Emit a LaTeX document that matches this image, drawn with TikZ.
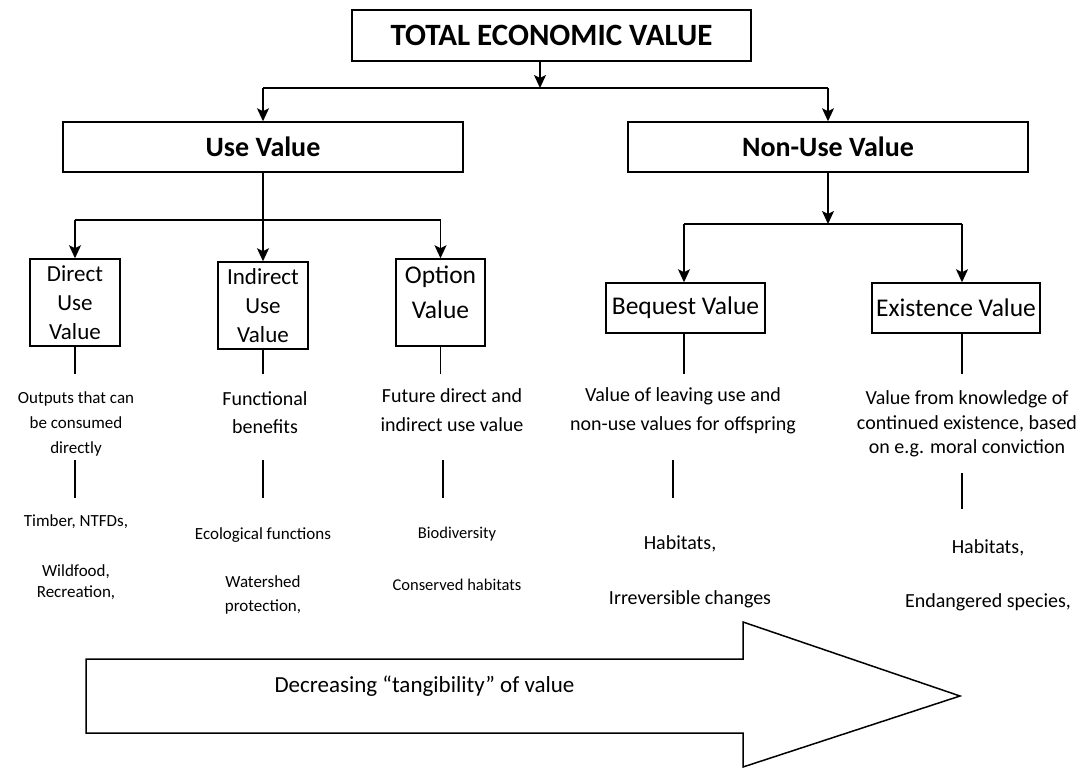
\documentclass[tikz,border=0pt]{standalone}
\usepackage{fontspec}
\setmainfont{Carlito}
\usetikzlibrary{arrows.meta}

\begin{document}
\begin{tikzpicture}[x=1pt,y=1pt]
	\tikzstyle{every node}+=[inner sep=0pt, align=center]
	\tikzstyle{valbox}=[draw, line width=1.5pt]
	\tikzstyle{link}=[line width=1.5pt]
	\tikzstyle{arr}=[link, -{Stealth[length=13pt,width=12pt,inset=3pt]}]
	\tikzstyle{headtxt}=[font=\fontsize{28}{32}\selectfont\bfseries]
	\tikzstyle{boxtxt}=[font=\fontsize{23}{29}\selectfont]
	\tikzstyle{smalltxt}=[font=\fontsize{17}{25}\selectfont]
	\tikzstyle{midtxt}=[font=\fontsize{20}{29}\selectfont]
	\useasboundingbox (0,0) rectangle (1082,-769);
	\node [valbox, minimum width=399, minimum height=51, font=\fontsize{31}{35}\selectfont\bfseries] (tev) at (551.5,-35.5) {TOTAL ECONOMIC VALUE};
	\node [valbox, headtxt, minimum width=400, minimum height=50] (use) at (263,-147) {Use Value};
	\node [valbox, headtxt, minimum width=400, minimum height=50] (nonuse) at (828,-147) {Non-Use Value};
	\node [valbox, boxtxt, minimum width=90, minimum height=87] (dir) at (75,-302.5) {Direct\\Use\\Value};
	\node [valbox, boxtxt, minimum width=90, minimum height=87] (ind) at (263,-305.5) {Indirect\\Use\\Value};
	\node [valbox, minimum width=89, minimum height=87, text depth=20pt, font=\fontsize{25.5}{35}\selectfont] (opt) at (440.5,-302.5) {Option\\Value};
	\node [valbox, minimum width=159, minimum height=50, font=\fontsize{25.5}{29}\selectfont] (beq) at (685.5,-308) {Bequest Value};
	\node [valbox, minimum width=168, minimum height=50, font=\fontsize{25.5}{29}\selectfont] (exi) at (956,-308) {Existence Value};
	\coordinate (tj) at (540,-88);
	\coordinate (uj) at (263,-220);
	\coordinate (nj) at (828,-224);
	\coordinate (bj) at (684,-224);
	\coordinate (ej) at (962,-224);
	\draw [arr] (tev.south -| tj) -- (tj);
	\draw [link] (use.north |- tj) -- (nonuse.north |- tj);
	\draw [arr] (use.north |- tj) -- (use.north);
	\draw [arr] (nonuse.north |- tj) -- (nonuse.north);
	\draw [arr] (use.south) -- (ind.north);
	\draw [link] (dir.north |- uj) -- (opt.north |- uj);
	\draw [arr] (dir.north |- uj) -- (dir.north);
	\draw [arr] (opt.north |- uj) -- (opt.north);
	\draw [arr] (nonuse.south) -- (nj);
	\draw [link] (bj) -- (ej);
	\draw [arr] (bj) -- (bj |- beq.north);
	\draw [arr] (ej) -- (ej |- exi.north);
	\node [smalltxt] (dout) at (76,-423.5) {Outputs that can\\be consumed\\directly};
	\node [midtxt, font=\fontsize{20}{28}\selectfont] (iout) at (265,-413) {Functional\\benefits};
	\node [midtxt] (oout) at (452,-410.5) {Future direct and\\indirect use value};
	\node [midtxt] (bout) at (683,-410.5) {Value of leaving use and\\non-use values for offspring};
	\node [midtxt, font=\fontsize{20}{24.5}\selectfont] (eout) at (967,-424) {Value from knowledge of\\continued existence, based\\on e.g. moral conviction};
	\draw [link] (dir.south) -- ++(0,-27);
	\draw [link] (ind.south) -- ++(0,-24);
	\draw [link] (opt.south) -- ++(0,-27);
	\draw [link] (beq.south -| bj) -- ++(0,-40);
	\draw [link] (exi.south -| ej) -- ++(0,-40);
	\draw [link] (dir.south |- 0,-460) -- ++(0,-38);
	\draw [link] (ind.south |- 0,-460) -- ++(0,-38);
	\draw [link] ([xshift=2.5pt]opt.south |- 0,-460) -- ++(0,-38);
	\draw [link] ([xshift=-11pt]bj |- 0,-460) -- ++(0,-38);
	\draw [link] (ej |- 0,-473) -- ++(0,-36);
	\node [smalltxt] (dex1) at (76,-522) {Timber, NTFDs,};
	\node [smalltxt, font=\fontsize{17}{21}\selectfont] (dex2) at (76,-582.5) {Wildfood,\\Recreation,};
	\node [smalltxt] (iex1) at (263,-535) {Ecological functions};
	\node [smalltxt, font=\fontsize{17}{24}\selectfont] (iex2) at (263,-595) {Watershed\\protection,};
	\node [smalltxt, font=\fontsize{16.5}{20}\selectfont] (oex1) at (457,-534) {Biodiversity};
	\node [smalltxt, font=\fontsize{16.5}{20}\selectfont] (oex2) at (457,-585) {Conserved habitats};
	\node [midtxt] (bex1) at (680,-544) {Habitats,};
	\node [midtxt] (bex2) at (690,-599) {Irreversible changes};
	\node [midtxt] (eex1) at (988,-548) {Habitats,};
	\node [midtxt] (eex2) at (988,-602) {Endangered species,};
	\draw [link, fill=white] (86,-659) -- (743,-659) -- (743,-622) -- (960,-696) -- (743,-767) -- (743,-733) -- (86,-733) -- cycle;
	\node [font=\fontsize{23}{27}\selectfont] (tang) at (424.5,-686) {Decreasing “tangibility” of value};
\end{tikzpicture}
\end{document}
